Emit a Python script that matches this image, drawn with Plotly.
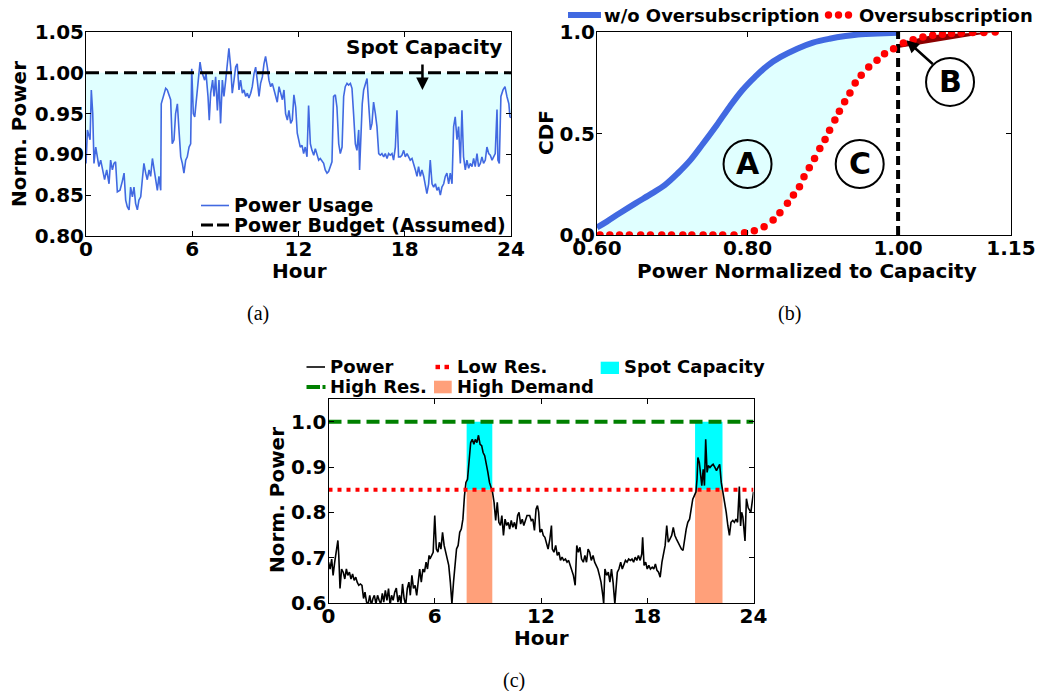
import plotly.graph_objects as go

W, H = 1060, 691

# ---------------- Panel (a): power usage over a day ----------------
a_hours = [0.00, 0.08, 0.23, 0.30, 0.38, 0.45, 0.55, 0.64, 0.73, 0.83, 0.92, 1.05, 1.17, 1.30, 1.39, 1.49, 1.58, 1.67, 1.77, 1.92,
           2.05, 2.15, 2.24, 2.33, 2.43, 2.52, 2.62, 2.71, 2.80, 2.90, 2.99, 3.09, 3.18, 3.27, 3.37, 3.46, 3.56, 3.65, 3.75, 3.84,
           3.93, 4.03, 4.12, 4.22, 4.25, 4.37, 4.50, 4.59, 4.69, 4.78, 4.87, 4.97, 5.06, 5.16, 5.25, 5.35, 5.44, 5.53, 5.63, 5.72,
           5.82, 5.91, 5.97, 6.06, 6.14, 6.25, 6.32, 6.44, 6.51, 6.63, 6.70, 6.78, 6.89, 6.96, 7.04, 7.15, 7.23, 7.32, 7.42, 7.51,
           7.60, 7.70, 7.79, 7.89, 7.98, 8.07, 8.17, 8.26, 8.36, 8.45, 8.54, 8.64, 8.73, 8.83, 8.92, 9.02, 9.11, 9.20, 9.30, 9.39,
           9.49, 9.58, 9.67, 9.77, 9.86, 9.96, 10.05, 10.14, 10.24, 10.33, 10.43, 10.52, 10.62, 10.71, 10.80, 10.90, 10.99, 11.09,
           11.18, 11.27, 11.37, 11.46, 11.56, 11.65, 11.74, 11.84, 11.93,
           12.01, 12.10, 12.20, 12.29, 12.38, 12.48, 12.57, 12.67, 12.76, 12.86, 12.95, 13.04, 13.14, 13.23, 13.33, 13.42, 13.51,
           13.61, 13.70, 13.80, 13.89, 13.98, 14.08, 14.17, 14.27, 14.36, 14.46, 14.55, 14.64, 14.74, 14.83, 14.93, 15.02, 15.11,
           15.21, 15.30, 15.40, 15.45, 15.53, 15.60, 15.68, 15.77, 15.87, 15.96, 16.06, 16.15, 16.24, 16.34, 16.43, 16.53, 16.62,
           16.71, 16.81, 16.90, 17.00, 17.09, 17.18, 17.28, 17.37, 17.47, 17.56, 17.65, 17.75, 17.84, 17.94, 18.03, 18.13, 18.22,
           18.31, 18.41, 18.50, 18.60, 18.69, 18.78, 18.88, 18.97, 19.07, 19.16, 19.25, 19.35, 19.44, 19.54, 19.63, 19.73, 19.82,
           19.91, 20.01, 20.10, 20.20, 20.29, 20.38, 20.48, 20.57, 20.67, 20.76, 20.85, 20.95, 21.04, 21.14, 21.23, 21.32, 21.42,
           21.51, 21.61, 21.70, 21.80, 21.89, 21.98, 22.08, 22.17, 22.27, 22.36, 22.45, 22.55, 22.64, 22.74, 22.83, 22.93, 23.02,
           23.11, 23.21, 23.26, 23.34, 23.43, 23.55, 23.66, 23.77, 23.88, 23.94, 24.00]
a_power = [0.889, 0.930, 0.918, 0.979, 0.950, 0.889, 0.909, 0.897, 0.885, 0.893, 0.881, 0.869, 0.881, 0.864, 0.893, 0.881, 0.889, 0.891, 0.854, 0.856,
           0.867, 0.877, 0.844, 0.836, 0.832, 0.860, 0.848, 0.860, 0.840, 0.832, 0.844, 0.848, 0.869, 0.889, 0.877, 0.869, 0.881, 0.873, 0.895, 0.881,
           0.873, 0.856, 0.873, 0.856, 0.962, 0.973, 0.981, 0.979, 0.973, 0.967, 0.913, 0.918, 0.950, 0.962, 0.930, 0.897, 0.889, 0.877, 0.893, 0.897,
           0.909, 0.913, 1.005, 0.950, 0.946, 0.971, 0.987, 1.013, 1.003, 0.995, 0.991, 0.999, 0.971, 0.942, 0.975, 0.991, 0.971, 0.995, 0.954, 0.991,
           0.938, 0.991, 0.971, 0.991, 1.016, 1.030, 1.007, 0.975, 0.991, 1.007, 1.011, 0.979, 0.991, 0.975, 0.979, 0.971, 0.975, 0.969, 0.975, 0.983,
           0.999, 1.007, 0.991, 0.971, 0.987, 0.995, 1.011, 1.020, 1.007, 0.991, 0.983, 0.987, 0.979, 0.971, 0.964, 0.983, 0.975, 0.967,
           0.979, 0.950, 0.942, 0.954, 0.938, 0.942, 0.973, 0.958, 0.926,
           0.918, 0.909, 0.911, 0.901, 0.909, 0.897, 0.960, 0.913, 0.905, 0.899, 0.907, 0.901, 0.893, 0.895, 0.891, 0.889, 0.881,
           0.877, 0.879, 0.887, 0.891, 0.971, 0.973, 0.958, 0.913, 0.901, 0.909, 0.971, 0.983, 0.987, 0.985, 0.987, 0.981, 0.950,
           0.913, 0.905, 0.930, 0.881, 0.938, 0.962, 0.979, 0.987, 0.993, 0.962, 0.930, 0.938, 0.964, 0.950, 0.934, 0.901, 0.899,
           0.901, 0.897, 0.901, 0.895, 0.901, 0.899, 0.901, 0.893, 0.909, 0.954, 0.897, 0.897, 0.899, 0.905, 0.897, 0.901, 0.897,
           0.893, 0.895, 0.889, 0.881, 0.873, 0.885, 0.873, 0.881, 0.873, 0.864, 0.852, 0.864, 0.893, 0.864, 0.860, 0.864, 0.856,
           0.860, 0.850, 0.860, 0.864, 0.873, 0.877, 0.864, 0.877, 0.864, 0.934, 0.946, 0.918, 0.934, 0.889, 0.954, 0.897, 0.881,
           0.893, 0.883, 0.889, 0.885, 0.895, 0.885, 0.901, 0.885, 0.889, 0.897, 0.889, 0.893, 0.909, 0.901, 0.899, 0.893, 0.897,
           0.901, 0.955, 0.893, 0.889, 0.971, 0.979, 0.983, 0.971, 0.962, 0.946, 0.945]
a_budget = 1.0

# ---------------- Panel (b): CDFs ----------------
b_wo_x = [0.600, 0.613, 0.630, 0.651, 0.673, 0.690, 0.707, 0.724, 0.741, 0.759, 0.776, 0.793, 0.810, 0.827, 0.844,
          0.866, 0.887, 0.909, 0.930, 0.951, 0.973, 1.000]
b_wo_cdf = [0.037, 0.066, 0.107, 0.156, 0.205, 0.246, 0.303, 0.369, 0.451, 0.541, 0.631, 0.713, 0.779, 0.836, 0.877,
            0.918, 0.948, 0.967, 0.980, 0.989, 0.992, 0.996]
b_ov_x = [0.604, 0.617, 0.630, 0.643, 0.658, 0.671, 0.686, 0.699, 0.714, 0.726, 0.741, 0.754, 0.767, 0.782, 0.796,
          0.809, 0.822, 0.834, 0.843, 0.853, 0.861, 0.869, 0.875, 0.882, 0.889, 0.896, 0.903, 0.909, 0.916, 0.922,
          0.929, 0.936, 0.943, 0.951, 0.961, 0.972, 0.982, 0.994, 1.007, 1.020, 1.033, 1.046, 1.059, 1.071, 1.084,
          1.099, 1.114, 1.129]
b_ov_cdf = [0.0, 0.0, 0.0, 0.0, 0.0, 0.0, 0.0, 0.0, 0.0, 0.0, 0.0, 0.0, 0.0, 0.0, 0.011,
            0.021, 0.041, 0.074, 0.110, 0.156, 0.197, 0.238, 0.287, 0.331, 0.377, 0.426, 0.470, 0.516, 0.566, 0.610,
            0.656, 0.700, 0.749, 0.787, 0.828, 0.861, 0.893, 0.918, 0.946, 0.962, 0.975, 0.984, 0.989, 0.992, 0.995,
            0.997, 0.998, 1.0]
b_capacity = 1.0
b_labels = ["A", "B", "C"]
b_label_x = [0.80, 1.069, 0.949]
b_label_y = [0.35, 0.754, 0.35]

# ---------------- Panel (c): reservations ----------------
c_hours = [0.00, 0.09, 0.18, 0.26, 0.35, 0.44, 0.53, 0.58, 0.65, 0.74, 0.83, 0.92, 1.01, 1.09, 1.18, 1.27, 1.36, 1.45, 1.54, 1.62,
           1.71, 1.80, 1.89, 1.98, 2.06, 2.15, 2.24, 2.33, 2.42, 2.51, 2.59, 2.68, 2.77, 2.86, 2.95, 3.04, 3.12, 3.21, 3.30, 3.39,
           3.48, 3.56, 3.65, 3.74, 3.83, 3.92, 4.01, 4.09, 4.18, 4.27, 4.36, 4.45, 4.54, 4.62, 4.71, 4.80, 4.89, 4.98, 5.06, 5.15,
           5.24, 5.33, 5.42, 5.51, 5.59, 5.68, 5.73, 5.82, 5.91, 6.00, 6.09, 6.18, 6.26, 6.35, 6.44, 6.53, 6.62, 6.71, 6.79, 6.88,
           6.97, 7.06, 7.15, 7.23, 7.32, 7.41, 7.50, 7.59, 7.68, 7.76, 7.85, 7.94, 8.03, 8.12, 8.21, 8.29, 8.38, 8.47, 8.56, 8.65,
           8.73, 8.82, 8.91, 9.00, 9.09, 9.18, 9.26, 9.35, 9.44, 9.53, 9.62, 9.71, 9.79, 9.88, 9.97, 10.06, 10.15, 10.23, 10.32,
           10.41, 10.50, 10.59, 10.68, 10.76, 10.85, 10.94, 11.03, 11.12, 11.21,
           11.36, 11.45, 11.54, 11.63, 11.72, 11.80, 11.87, 11.94, 12.04, 12.13, 12.22, 12.31, 12.40, 12.50, 12.59, 12.64, 12.73,
           12.83, 12.92, 13.01, 13.10, 13.19, 13.28, 13.38, 13.47, 13.56, 13.65, 13.74, 13.83, 13.93, 14.02, 14.11, 14.20, 14.29,
           14.39, 14.48, 14.57, 14.66, 14.75, 14.84, 14.94, 15.03, 15.12, 15.21, 15.30, 15.39, 15.49, 15.54, 15.61, 15.71, 15.80,
           15.89, 15.98, 16.07, 16.17, 16.24, 16.31, 16.40, 16.50, 16.59, 16.68, 16.77, 16.86, 16.95, 17.05, 17.14, 17.23, 17.32,
           17.41, 17.50, 17.60, 17.69, 17.74, 17.82, 17.91, 18.00, 18.09, 18.18, 18.28, 18.37, 18.46, 18.55, 18.64, 18.73, 18.83,
           18.92, 19.01, 19.10, 19.19, 19.28, 19.38, 19.47, 19.56, 19.65, 19.74, 19.83, 19.93, 20.02, 20.11, 20.20, 20.29, 20.39,
           20.48, 20.57, 20.66, 20.75, 20.81, 20.86, 20.94, 21.01, 21.08, 21.16, 21.23, 21.30, 21.38, 21.45, 21.54, 21.63, 21.72,
           21.82, 21.91, 22.00, 22.09, 22.18, 22.28, 22.37, 22.46, 22.55, 22.64, 22.73, 22.83, 22.92, 23.01, 23.10, 23.20, 23.27,
           23.33, 23.40, 23.52, 23.60, 23.70, 23.85, 24.00]
c_power = [0.690, 0.675, 0.697, 0.661, 0.690, 0.712, 0.738, 0.705, 0.632, 0.675, 0.668, 0.653, 0.675, 0.661, 0.668, 0.653, 0.664, 0.650, 0.657, 0.646,
           0.639, 0.642, 0.639, 0.610, 0.624, 0.602, 0.598, 0.617, 0.595, 0.610, 0.617, 0.598, 0.617, 0.606, 0.598, 0.621, 0.602, 0.628, 0.606, 0.632,
           0.595, 0.617, 0.606, 0.624, 0.633, 0.602, 0.617, 0.598, 0.642, 0.610, 0.595, 0.632, 0.646, 0.617, 0.661, 0.632, 0.639, 0.617, 0.646, 0.675,
           0.646, 0.675, 0.668, 0.690, 0.675, 0.705, 0.697, 0.705, 0.712, 0.793, 0.719, 0.712, 0.734, 0.719, 0.756, 0.727, 0.712, 0.697, 0.683, 0.646,
           0.598, 0.646, 0.690, 0.719, 0.727, 0.756, 0.763, 0.785, 0.837, 0.866, 0.873, 0.910, 0.954, 0.961, 0.950, 0.961, 0.954, 0.970, 0.950, 0.947,
           0.932, 0.925, 0.910, 0.888, 0.866, 0.852, 0.845, 0.822, 0.782, 0.822, 0.778, 0.771, 0.793, 0.749, 0.785, 0.771, 0.778, 0.763, 0.782,
           0.767, 0.778, 0.763, 0.793, 0.800, 0.774, 0.785, 0.771, 0.782, 0.793,
           0.793, 0.782, 0.785, 0.760, 0.807, 0.815, 0.800, 0.756, 0.763, 0.749, 0.745, 0.734, 0.719, 0.741, 0.771, 0.719, 0.712,
           0.727, 0.705, 0.712, 0.694, 0.701, 0.694, 0.697, 0.690, 0.694, 0.683, 0.672, 0.661, 0.639, 0.727, 0.712, 0.723, 0.697,
           0.690, 0.705, 0.690, 0.719, 0.712, 0.694, 0.705, 0.690, 0.683, 0.675, 0.661, 0.646, 0.617, 0.598, 0.675, 0.661, 0.668,
           0.646, 0.675, 0.646, 0.598, 0.646, 0.668, 0.675, 0.690, 0.675, 0.686, 0.694, 0.690, 0.697, 0.694, 0.697, 0.690, 0.701,
           0.694, 0.705, 0.694, 0.708, 0.745, 0.683, 0.690, 0.675, 0.683, 0.675, 0.679, 0.675, 0.686, 0.672, 0.668, 0.657, 0.690,
           0.712, 0.727, 0.771, 0.734, 0.741, 0.749, 0.767, 0.749, 0.741, 0.734, 0.727, 0.719, 0.716, 0.741, 0.763, 0.778, 0.785,
           0.807, 0.829, 0.837, 0.845, 0.873, 0.921, 0.910, 0.881, 0.859, 0.895, 0.859, 0.961, 0.888, 0.903, 0.899, 0.903, 0.906,
           0.899, 0.892, 0.899, 0.906, 0.866, 0.845, 0.822, 0.800, 0.771, 0.749, 0.778, 0.782, 0.778, 0.785, 0.778, 0.857, 0.770,
           0.800, 0.790, 0.737, 0.830, 0.810, 0.800, 0.845]
c_high_res = 1.0
c_low_res = 0.85
c_demand_start = [7.8, 20.7]
c_demand_end = [9.25, 22.25]

# ---------------- helpers ----------------
def PX(x):
    return x / W

def PY(y):
    return 1 - y / H

BLUE = "#4169E1"
CYAN_LIGHT = "#E0FFFF"
FONT = "DejaVu Sans"

fig = go.Figure()

# ----- Panel (a) -----
fig.add_trace(go.Scatter(x=a_hours, y=[a_budget] * len(a_hours), mode="lines",
                         line=dict(width=0, color="rgba(0,0,0,0)"), xaxis="x", yaxis="y", hoverinfo="skip"))
fig.add_trace(go.Scatter(x=a_hours, y=[min(v, a_budget) for v in a_power], mode="lines",
                         line=dict(width=0, color="rgba(0,0,0,0)"), fill="tonexty", fillcolor=CYAN_LIGHT,
                         xaxis="x", yaxis="y", hoverinfo="skip"))
fig.add_trace(go.Scatter(x=a_hours, y=a_power, mode="lines", line=dict(color=BLUE, width=1.6),
                         xaxis="x", yaxis="y", name="Power Usage"))
fig.add_trace(go.Scatter(x=[0, 24], y=[a_budget, a_budget], mode="lines",
                         line=dict(color="black", width=3, dash="13px,6px"),
                         xaxis="x", yaxis="y", name="Power Budget (Assumed)"))

# ----- Panel (b) -----
ov_left_x = [x for x in b_ov_x if x <= b_capacity]
ov_left_y = [y for x, y in zip(b_ov_x, b_ov_cdf) if x <= b_capacity]
fig.add_trace(go.Scatter(x=ov_left_x, y=ov_left_y, mode="lines", line=dict(width=0, color="rgba(0,0,0,0)", shape="spline"),
                         xaxis="x2", yaxis="y2", hoverinfo="skip"))
fig.add_trace(go.Scatter(x=b_wo_x, y=b_wo_cdf, mode="lines", line=dict(width=0, color="rgba(0,0,0,0)", shape="spline"),
                         fill="tonexty", fillcolor=CYAN_LIGHT, xaxis="x2", yaxis="y2", hoverinfo="skip"))
ov_right_x = [x for x in b_ov_x if x >= 0.99]
ov_right_y = [y for x, y in zip(b_ov_x, b_ov_cdf) if x >= 0.99]
fig.add_trace(go.Scatter(x=[b_capacity, ov_right_x[-1]], y=[1.0, 1.0], mode="lines",
                         line=dict(width=0, color="rgba(0,0,0,0)"), xaxis="x2", yaxis="y2", hoverinfo="skip"))
fig.add_trace(go.Scatter(x=ov_right_x[::-1], y=ov_right_y[::-1], mode="lines",
                         line=dict(width=0, color="rgba(0,0,0,0)"), fill="tonexty", fillcolor="#8B0000",
                         xaxis="x2", yaxis="y2", hoverinfo="skip"))
fig.add_trace(go.Scatter(x=b_wo_x, y=b_wo_cdf, mode="lines", line=dict(color=BLUE, width=6, shape="spline"),
                         xaxis="x2", yaxis="y2", name="w/o Oversubscription"))
fig.add_trace(go.Scatter(x=[b_capacity, b_capacity], y=[0, 1], mode="lines",
                         line=dict(color="black", width=4, dash="9px,5px"), xaxis="x2", yaxis="y2"))
fig.add_trace(go.Scatter(x=b_ov_x, y=b_ov_cdf, mode="markers",
                         marker=dict(color="red", size=7.5, line=dict(width=0)),
                         xaxis="x2", yaxis="y2", name="Oversubscription"))

# ----- Panel (c) -----
centers = [(s + e) / 2 for s, e in zip(c_demand_start, c_demand_end)]
widths = [e - s for s, e in zip(c_demand_start, c_demand_end)]
fig.add_trace(go.Bar(x=centers, y=[c_low_res] * 2, base=[0, 0], width=widths,
                     marker=dict(color="#FFA07A", line=dict(width=0)), xaxis="x3", yaxis="y3", name="High Demand"))
fig.add_trace(go.Bar(x=centers, y=[c_high_res - c_low_res] * 2, base=[c_low_res] * 2, width=widths,
                     marker=dict(color="#00FFFF", line=dict(width=0)), xaxis="x3", yaxis="y3", name="Spot Capacity"))
fig.add_trace(go.Scatter(x=c_hours, y=c_power, mode="lines", line=dict(color="black", width=1.6),
                         xaxis="x3", yaxis="y3", name="Power"))
fig.add_trace(go.Scatter(x=[0, 24], y=[c_high_res] * 2, mode="lines",
                         line=dict(color="green", width=4, dash="13px,6px"), xaxis="x3", yaxis="y3", name="High Res."))
fig.add_trace(go.Scatter(x=[0, 24], y=[c_low_res] * 2, mode="lines",
                         line=dict(color="red", width=4, dash="4px,5px"), xaxis="x3", yaxis="y3", name="Low Res."))

# ----- axes -----
common = dict(showline=True, linecolor="black", linewidth=1, mirror="ticks", ticks="inside", ticklen=5,
              tickwidth=1, tickcolor="black", showgrid=False, zeroline=False, automargin=False,
              tickfont=dict(family=FONT, size=20, color="black", weight="bold"))

fig.update_layout(
    xaxis=dict(domain=[PX(86), PX(511)], range=[0, 24], tickvals=[0, 6, 12, 18, 24], anchor="y", **common),
    yaxis=dict(domain=[PY(236), PY(32)], range=[0.8, 1.05], tickvals=[0.8, 0.85, 0.9, 0.95, 1.0, 1.05],
               tickformat=".2f", anchor="x", **common),
    xaxis2=dict(domain=[PX(597), PX(1011)], range=[0.6, 1.15], tickvals=[0.6, 0.8, 1.0, 1.15],
                ticktext=["0.60", "0.80", "1.00", "1.15"], anchor="y2", **common),
    yaxis2=dict(domain=[PY(235), PY(32)], range=[0, 1], tickvals=[0, 0.5, 1.0],
                ticktext=["0.0", "0.5", "1.0"], anchor="x2", **common),
    xaxis3=dict(domain=[PX(328.5), PX(753.5)], range=[0, 24], tickvals=[0, 6, 12, 18, 24], anchor="y3", **common),
    yaxis3=dict(domain=[PY(603), PY(399)], range=[0.6, 1.05], tickvals=[0.6, 0.7, 0.8, 0.9, 1.0],
                tickformat=".1f", anchor="x3", **common),
)

# pull tick labels closer to the axes (matplotlib-like padding)
try:
    fig.update_layout(xaxis_ticklabelstandoff=-5, xaxis2_ticklabelstandoff=-5, xaxis3_ticklabelstandoff=-5,
                      yaxis_ticklabelstandoff=-3, yaxis2_ticklabelstandoff=-3, yaxis3_ticklabelstandoff=-3)
except Exception:
    pass

shapes = []
annotations = []

def text(x, y, s, size=20, xanchor="center", angle=0, family=FONT, weight="bold"):
    annotations.append(dict(x=PX(x), y=PY(y), xref="paper", yref="paper", text=s, showarrow=False,
                            xanchor=xanchor, yanchor="middle", textangle=angle,
                            font=dict(family=family, size=size, color="black", weight=weight)))

def hline(x0, x1, y, color, width, dash="solid"):
    shapes.append(dict(type="line", xref="paper", yref="paper", x0=PX(x0), x1=PX(x1), y0=PY(y), y1=PY(y),
                       line=dict(color=color, width=width, dash=dash)))

def rect(x0, x1, y0, y1, color):
    shapes.append(dict(type="rect", xref="paper", yref="paper", x0=PX(x0), x1=PX(x1), y0=PY(y1), y1=PY(y0),
                       fillcolor=color, line=dict(width=0)))

def dot(cx, cy, r, color):
    shapes.append(dict(type="circle", xref="paper", yref="paper", x0=PX(cx - r), x1=PX(cx + r),
                       y0=PY(cy + r), y1=PY(cy - r), fillcolor=color, line=dict(width=0)))

# axis titles
text(299, 271, "Hour")
text(19, 134, "Norm. Power", angle=-90)
text(546, 133, "CDF", angle=-90)
text(807, 271, "Power Normalized to Capacity")
text(541, 638, "Hour")
text(277, 500, "Norm. Power", angle=-90)

# captions
text(258, 313, "(a)", size=20, family="Liberation Serif", weight="normal")
text(790, 313, "(b)", size=20, family="Liberation Serif", weight="normal")
text(514, 680, "(c)", size=20, family="Liberation Serif", weight="normal")

# panel (a) legend
hline(201, 229, 205.5, BLUE, 1.6)
text(232, 205, "Power Usage", size=19, xanchor="left")
hline(201, 229, 225, "black", 3, "12px,4px")
text(232, 225, "Power Budget (Assumed)", size=19, xanchor="left")

# panel (a) spot capacity note
text(424, 47, "Spot Capacity", size=20)
annotations.append(dict(x=19.0, y=0.979, ax=19.0, ay=1.012, xref="x", yref="y", axref="x", ayref="y",
                        text="", showarrow=True, arrowhead=2, arrowsize=1, arrowwidth=2.5, arrowcolor="black"))

# panel (b) legend
hline(568, 601, 15, BLUE, 6)
text(602, 15, "w/o Oversubscription", size=18, xanchor="left")
for cx in (828.5, 838.5, 848.5):
    dot(cx, 15, 3.7, "red")
text(857, 15, "Oversubscription", size=18, xanchor="left")

# panel (b) circled labels
for lab, lx, ly in zip(b_labels, b_label_x, b_label_y):
    shapes.append(dict(type="circle", xref="x2", yref="y2", xsizemode="pixel", ysizemode="pixel",
                       xanchor=lx, yanchor=ly, x0=-24, x1=24, y0=-24, y1=24,
                       line=dict(color="black", width=2), fillcolor="rgba(0,0,0,0)"))
    annotations.append(dict(x=lx, y=ly, xref="x2", yref="y2", text=lab, showarrow=False,
                            xanchor="center", yanchor="middle",
                            font=dict(family=FONT, size=30, color="black", weight="bold")))
annotations.append(dict(x=1.011, y=0.959, ax=1.048, ay=0.836, xref="x2", yref="y2", axref="x2", ayref="y2",
                        text="", showarrow=True, arrowhead=2, arrowsize=1, arrowwidth=2.5, arrowcolor="black"))

# panel (c) legend
hline(306.5, 325, 367, "black", 1.6)
text(328, 367, "Power", size=18, xanchor="left")
rect(435.5, 440, 364.8, 369.2, "red")
rect(444.5, 449, 364.8, 369.2, "red")
text(455, 367, "Low Res.", size=18, xanchor="left")
rect(600.7, 619, 361.7, 374, "#00FFFF")
text(622, 367, "Spot Capacity", size=18, xanchor="left")
hline(306.5, 320, 387, "green", 4)
hline(322.5, 325.5, 387, "green", 4)
text(328, 387, "High Res.", size=18, xanchor="left")
rect(434, 451.7, 380.7, 393.3, "#FFA07A")
text(455, 387, "High Demand", size=18, xanchor="left")

fig.update_layout(
    width=W, height=H, margin=dict(l=0, r=0, t=0, b=0, autoexpand=False),
    paper_bgcolor="white", plot_bgcolor="white", showlegend=False, barmode="overlay",
    font=dict(family=FONT, size=20, color="black", weight="bold"),
    shapes=shapes, annotations=annotations,
)

fig.write_html("out.html")
